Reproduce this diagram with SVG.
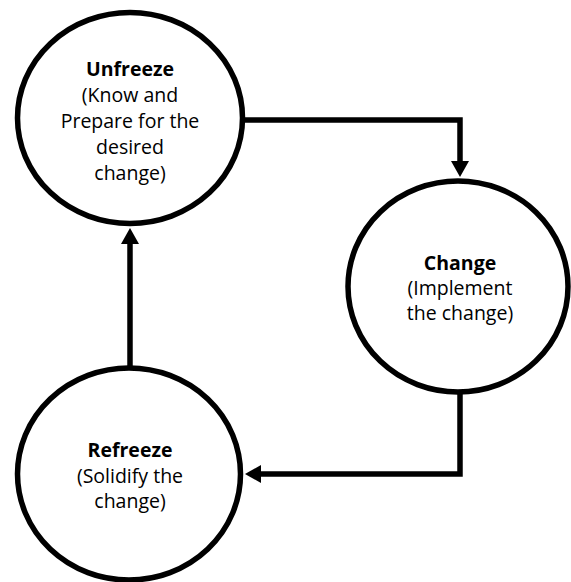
<svg xmlns="http://www.w3.org/2000/svg" width="571" height="582" viewBox="0 0 571 582">
  <style>
    .node { fill: #ffffff; stroke: #000000; stroke-width: 5.5; }
    .t { font-family: "Open Sans", "Liberation Sans", sans-serif; font-size: 19.5px; fill: #000000; text-anchor: middle; }
    .b { font-weight: bold; }
    .conn { fill: none; stroke: #000000; stroke-width: 5.5; stroke-linejoin: miter; }
  </style>
  <defs>
    <marker id="arrow" markerUnits="userSpaceOnUse" viewBox="0 0 16 18" refX="1" refY="9" markerWidth="16" markerHeight="18" orient="auto">
      <path d="M0,0 L16,9 L0,18 z" fill="#000000"/>
    </marker>
  </defs>
  <rect width="571" height="582" fill="#ffffff"/>
  <g id="connectors">
    <path class="conn" d="M244,120 H460 V162" marker-end="url(#arrow)"/>
    <path class="conn" d="M460,391 V474 H260" marker-end="url(#arrow)"/>
    <path class="conn" d="M130,368 V243" marker-end="url(#arrow)"/>
  </g>
  <g id="unfreeze">
    <ellipse class="node" cx="130" cy="118" rx="112.5" ry="105.5"/>
    <text class="t b" x="130" y="76">Unfreeze</text>
    <text class="t" x="130" y="102">(Know and</text>
    <text class="t" x="130" y="128">Prepare for the</text>
    <text class="t" x="130" y="154">desired</text>
    <text class="t" x="130" y="180">change)</text>
  </g>
  <g id="change">
    <ellipse class="node" cx="458" cy="286.5" rx="110" ry="105.5"/>
    <text class="t b" x="460" y="270">Change</text>
    <text class="t" x="460" y="295">(Implement</text>
    <text class="t" x="460" y="320">the change)</text>
  </g>
  <g id="refreeze">
    <ellipse class="node" cx="129" cy="474" rx="111.5" ry="106"/>
    <text class="t b" x="130" y="457">Refreeze</text>
    <text class="t" x="130" y="483">(Solidify the</text>
    <text class="t" x="130" y="508">change)</text>
  </g>
</svg>
